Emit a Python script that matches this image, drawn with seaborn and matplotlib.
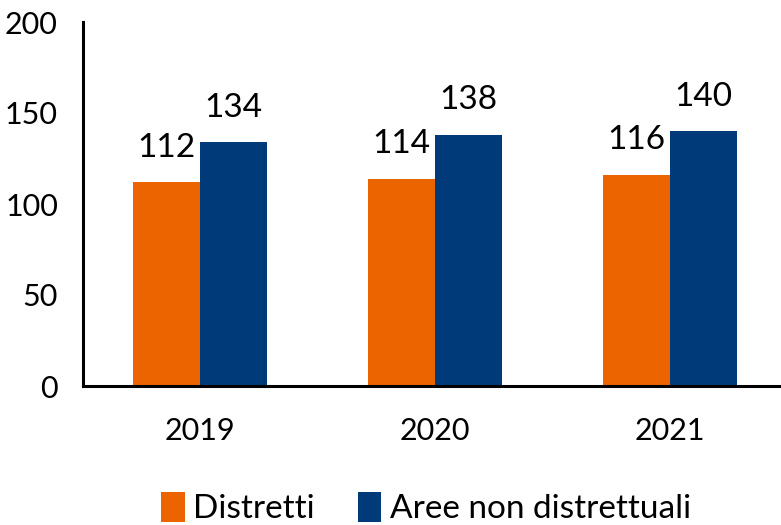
import matplotlib
matplotlib.use("Agg")
import matplotlib.pyplot as plt
import seaborn as sns
import pandas as pd

years = ["2019", "2020", "2021"]
distretti = [112, 114, 116]
aree_non = [134, 138, 140]
series = ["Distretti", "Aree non distrettuali"]
colors = ["#EB6400", "#003A78"]
yticks = [0, 50, 100, 150, 200]

df = pd.DataFrame({
    "year": years * 2,
    "value": distretti + aree_non,
    "series": [series[0]] * 3 + [series[1]] * 3,
})

sns.set_theme(style="white")
plt.rcParams["font.family"] = ["Lato", "DejaVu Sans"]
plt.rcParams["text.color"] = "black"

fig = plt.figure(figsize=(7.81, 5.25), dpi=100)
ax = fig.add_axes([83 / 781, 1 - 386 / 525, 704 / 781, (386 - 22) / 525])

sns.barplot(data=df, x="year", y="value", hue="series", palette=colors,
            width=0.57, gap=0, saturation=1, linewidth=0, ax=ax, legend=True)

for c in ax.containers:
    ax.bar_label(c, padding=14, fontsize=24, color="black")

ax.set_xlim(-0.5, 2.5)
ax.set_ylim(0, 200)
ax.set_yticks(yticks)
ax.set_xlabel("")
ax.set_ylabel("")
ax.tick_params(axis="y", length=0, pad=18, labelsize=22, colors="black")
ax.tick_params(axis="x", length=0, pad=22, labelsize=22, colors="black")
for s in ["top", "right"]:
    ax.spines[s].set_visible(False)
for s in ["left", "bottom"]:
    ax.spines[s].set_color("black")
    ax.spines[s].set_linewidth(2.2)

handles, labels = ax.get_legend_handles_labels()
ax.get_legend().remove()
fig.legend(handles, labels, loc="center", bbox_to_anchor=(426 / 781, 1 - 508 / 525),
           ncol=2, frameon=False, fontsize=24, handlelength=0.7, handleheight=1.0,
           handletextpad=0.25, columnspacing=1.3, borderaxespad=0,
           labelcolor="black")

fig.savefig("out.png", dpi=100)
